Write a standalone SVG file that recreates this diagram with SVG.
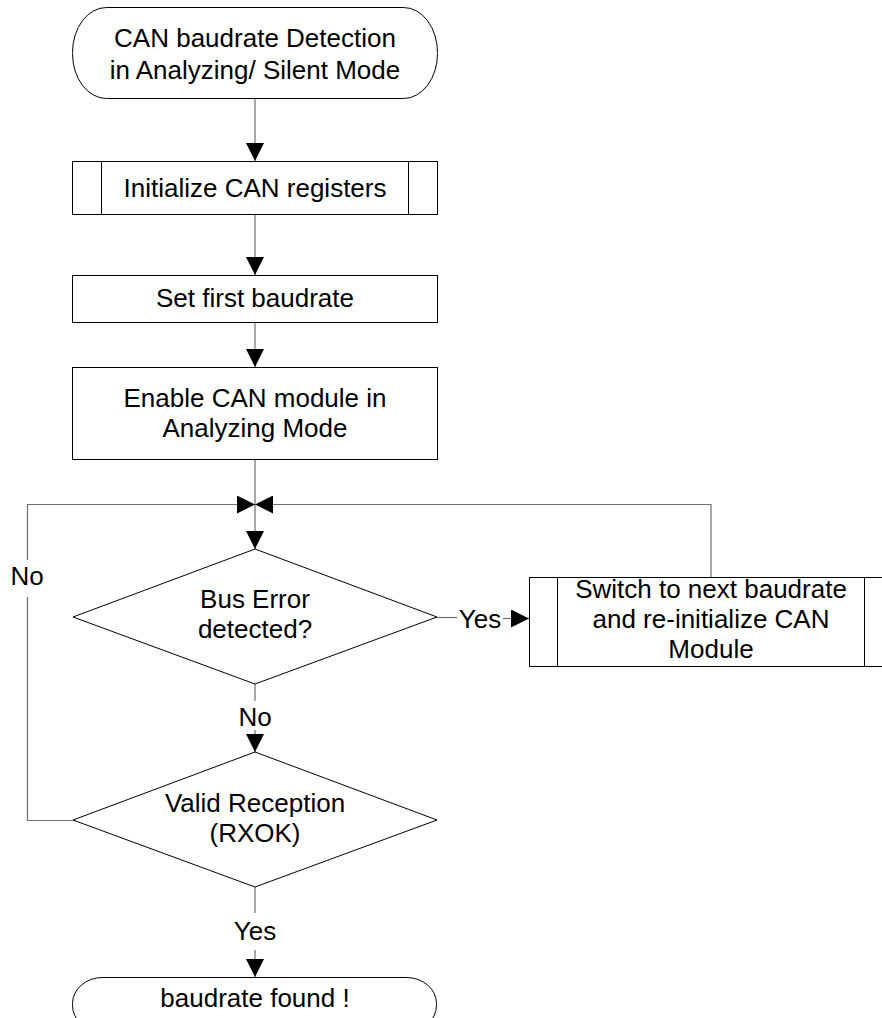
<svg xmlns="http://www.w3.org/2000/svg" width="882" height="1018" viewBox="0 0 882 1018">
<style>
.s{fill:#fff;stroke:#000;stroke-width:1}
.c{fill:none;stroke:#6e6e6e;stroke-width:1.2}
text{font-family:"Liberation Sans",Arial,sans-serif;font-size:26px;fill:#000;text-anchor:middle}
</style>
<defs>
<marker id="ah" markerUnits="userSpaceOnUse" markerWidth="18" markerHeight="18" refX="18" refY="9" orient="auto" viewBox="0 0 18 18">
<path d="M0,0 L18,9 L0,18 z" fill="#000"/>
</marker>
</defs>
<rect width="882" height="1018" fill="#fff"/>
<g id="connectors">
<path class="c" d="M255,98 V161" marker-end="url(#ah)"/>
<path class="c" d="M255,214 V275" marker-end="url(#ah)"/>
<path class="c" d="M255,323 V367" marker-end="url(#ah)"/>
<path class="c" d="M255,459 V549" marker-end="url(#ah)"/>
<path class="c" d="M437,617.5 H457"/>
<path class="c" d="M503,618.5 H529" marker-end="url(#ah)"/>
<path class="c" d="M711,577 V504.5 H255" marker-end="url(#ah)"/>
<path class="c" d="M255,684 V701"/>
<path class="c" d="M255,730 V752" marker-end="url(#ah)"/>
<path class="c" d="M73,820.5 H27.5 V597"/>
<path class="c" d="M27.5,560 V504.5 H255" marker-end="url(#ah)"/>
<path class="c" d="M255,887 V913"/>
<path class="c" d="M255,950 V977" marker-end="url(#ah)"/>
<text x="27" y="585">No</text>
<text x="480" y="628">Yes</text>
<text x="255" y="726">No</text>
<text x="255" y="940">Yes</text>
</g>
<g id="start">
<rect class="s" x="72.5" y="7.5" width="365" height="91" rx="34" ry="45"/>
<text x="255" y="47">CAN baudrate Detection</text>
<text x="255" y="79">in Analyzing/ Silent Mode</text>
</g>
<g id="init">
<rect class="s" x="72.5" y="161.5" width="365" height="53"/>
<path class="s" d="M101.5,161.5 V214.5 M408.5,161.5 V214.5"/>
<text x="255" y="197">Initialize CAN registers</text>
</g>
<g id="setfirst">
<rect class="s" x="72.5" y="275.5" width="365" height="47"/>
<text x="255" y="307">Set first baudrate</text>
</g>
<g id="enable">
<rect class="s" x="72.5" y="367.5" width="365" height="92"/>
<text x="255" y="407">Enable CAN module in</text>
<text x="255" y="437">Analyzing Mode</text>
</g>
<g id="buserror">
<polygon class="s" points="255,549 437,617 255,684 73,617"/>
<text x="255" y="608">Bus Error</text>
<text x="255" y="638">detected?</text>
</g>
<g id="switch">
<rect class="s" x="529.5" y="577.5" width="364" height="89"/>
<path class="s" d="M557.5,577.5 V666.5 M864.5,577.5 V666.5"/>
<text x="711" y="598">Switch to next baudrate</text>
<text x="711" y="628">and re-initialize CAN</text>
<text x="711" y="658">Module</text>
</g>
<g id="valid">
<polygon class="s" points="255,752 437,820 255,887 73,820"/>
<text x="255" y="812">Valid Reception</text>
<text x="255" y="842">(RXOK)</text>
</g>
<g id="end">
<rect class="s" x="72.5" y="977.5" width="364" height="54" rx="30" ry="26"/>
<text x="255" y="1007">baudrate found !</text>
</g>
</svg>
